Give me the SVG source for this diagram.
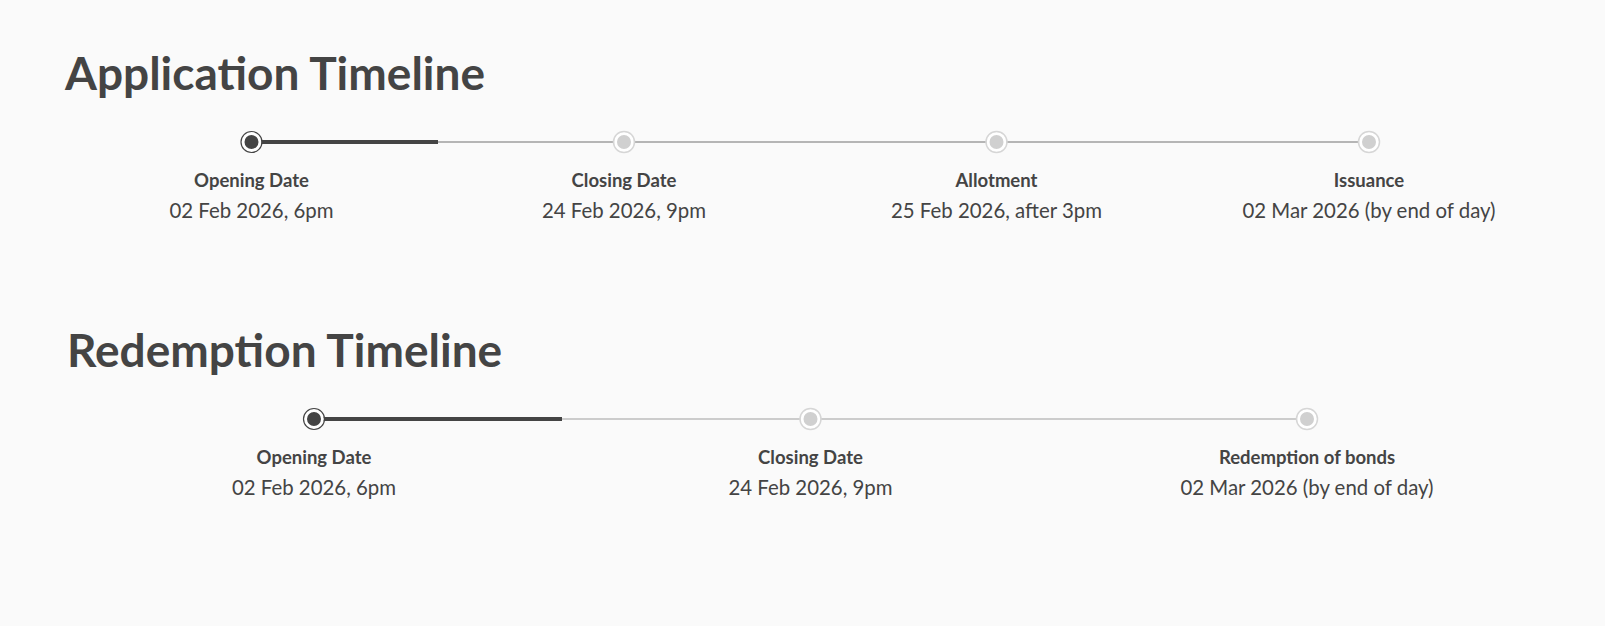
<svg xmlns="http://www.w3.org/2000/svg" width="1605" height="626" viewBox="0 0 1605 626">
<style>
.title{font-family:Lato,"Open Sans",sans-serif;font-weight:700;font-size:46px;fill:#444444}
.lbl{font-family:Lato,"Open Sans",sans-serif;font-weight:700;font-size:18.5px;fill:#444444;text-anchor:middle}
.date{font-family:Lato,"Open Sans",sans-serif;font-weight:400;font-size:20.4px;fill:#444444;text-anchor:middle}
.done{stroke:#444444;stroke-width:4}
.todo{stroke:#b5b5b5;stroke-width:2}
.todo2{stroke:#bdbdbd;stroke-width:1.5}
.dotA{fill:#444444;stroke:#ffffff;stroke-width:3}
.ringA{fill:none;stroke:#444444;stroke-width:1.2}
.dotI{fill:#d0d0d0;stroke:#ffffff;stroke-width:3}
.ringI{fill:none;stroke:#d6d6d6;stroke-width:1.5}
</style>
<rect width="1605" height="626" fill="#fafafa"/>
<text class="title" x="65" y="90">Application Timeline</text>
<text class="title" x="67" y="367">Redemption Timeline</text>
<g id="connectors">
<line class="todo" x1="251.5" y1="142" x2="1369" y2="142"/>
<line class="done" x1="251.5" y1="142" x2="438" y2="142"/>
<line class="todo2" x1="314" y1="419" x2="1307" y2="419"/>
<line class="done" x1="314" y1="419" x2="562" y2="419"/>
</g>
<g id="app-opening">
<circle class="dotA" cx="251.5" cy="142" r="8.5"/><circle class="ringA" cx="251.5" cy="142" r="10.5"/>
<text class="lbl" x="251.5" y="186.5">Opening Date</text>
<text class="date" x="251.5" y="218">02 Feb 2026, 6pm</text>
</g>
<g id="app-closing">
<circle class="dotI" cx="624" cy="142" r="8.5"/><circle class="ringI" cx="624" cy="142" r="10.5"/>
<text class="lbl" x="624" y="186.5">Closing Date</text>
<text class="date" x="624" y="218">24 Feb 2026, 9pm</text>
</g>
<g id="app-allotment">
<circle class="dotI" cx="996.5" cy="142" r="8.5"/><circle class="ringI" cx="996.5" cy="142" r="10.5"/>
<text class="lbl" x="996.5" y="186.5">Allotment</text>
<text class="date" x="996.5" y="218">25 Feb 2026, after 3pm</text>
</g>
<g id="app-issuance">
<circle class="dotI" cx="1369" cy="142" r="8.5"/><circle class="ringI" cx="1369" cy="142" r="10.5"/>
<text class="lbl" x="1369" y="186.5">Issuance</text>
<text class="date" x="1369" y="218">02 Mar 2026 (by end of day)</text>
</g>
<g id="red-opening">
<circle class="dotA" cx="314" cy="419" r="8.5"/><circle class="ringA" cx="314" cy="419" r="10.5"/>
<text class="lbl" x="314" y="463.5">Opening Date</text>
<text class="date" x="314" y="495">02 Feb 2026, 6pm</text>
</g>
<g id="red-closing">
<circle class="dotI" cx="810.5" cy="419" r="8.5"/><circle class="ringI" cx="810.5" cy="419" r="10.5"/>
<text class="lbl" x="810.5" y="463.5">Closing Date</text>
<text class="date" x="810.5" y="495">24 Feb 2026, 9pm</text>
</g>
<g id="red-redemption">
<circle class="dotI" cx="1307" cy="419" r="8.5"/><circle class="ringI" cx="1307" cy="419" r="10.5"/>
<text class="lbl" x="1307" y="463.5">Redemption of bonds</text>
<text class="date" x="1307" y="495">02 Mar 2026 (by end of day)</text>
</g>
</svg>
